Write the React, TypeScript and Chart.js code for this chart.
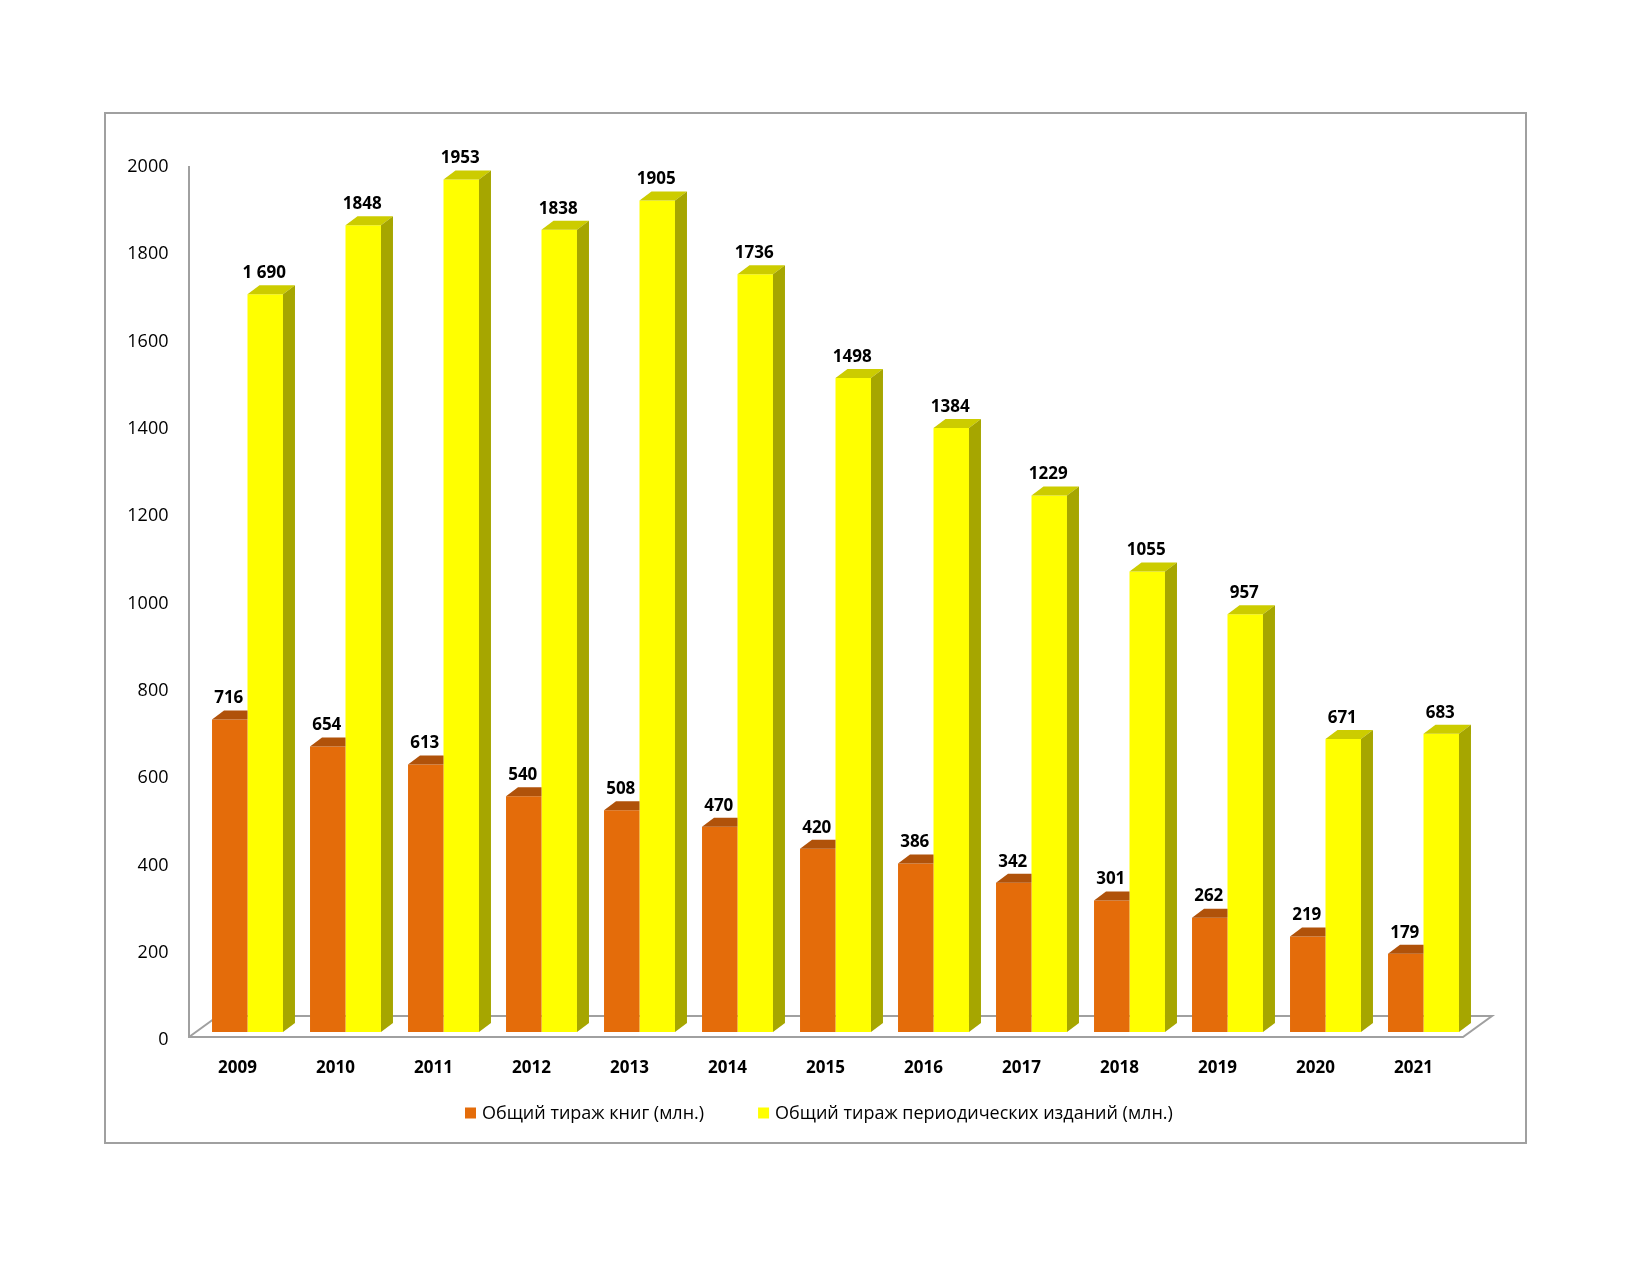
import React, { useEffect, useRef } from "react";
import { Chart, registerables } from "chart.js";

Chart.register(...registerables);

// ---- data ----
const years = ["2009", "2010", "2011", "2012", "2013", "2014", "2015", "2016", "2017", "2018", "2019", "2020", "2021"];
const booksCirculation = [716, 654, 613, 540, 508, 470, 420, 386, 342, 301, 262, 219, 179];
const periodicalsCirculation = [1690, 1848, 1953, 1838, 1905, 1736, 1498, 1384, 1229, 1055, 957, 671, 683];
const seriesNames = ["Общий тираж книг (млн.)", "Общий тираж периодических изданий (млн.)"];
const yAxisMin = 0;
const yAxisMax = 2000;
const yAxisStep = 200;
// which data labels use digit grouping ("1 690")
const groupedLabels = [[], [0]];

// ---- styles ----
const FRONT = ["#E46C0A", "#FFFF00"];
const TOP = ["#B0520A", "#CCCC00"];
const SIDE = ["#9A4808", "#A6A600"];
const DX = 12;
const DY = 9;
const LINE = "#A0A0A0";
const FONT = "'Open Sans', 'DejaVu Sans', sans-serif";

function formatValue(v: number, di: number, i: number): string {
  if (groupedLabels[di].includes(i)) {
    return String(v).replace(/\B(?=(\d{3})+(?!\d))/g, " ");
  }
  return String(v);
}

const threeDPlugin = {
  id: "threeD",
  beforeDraw(chart: any) {
    const ctx = chart.ctx;
    ctx.save();
    ctx.fillStyle = "#ffffff";
    ctx.fillRect(0, 0, chart.width, chart.height);
    ctx.strokeStyle = LINE;
    ctx.lineWidth = 2;
    ctx.strokeRect(105, 113, 1421, 1030);
    ctx.restore();
  },
  beforeDatasetsDraw(chart: any) {
    const { left, right, bottom, top } = chart.chartArea;
    const ctx = chart.ctx;
    const fx0 = left - 9.5;
    const fx1 = right - 9.5;
    const fy = bottom + 5;
    const bx = 29;
    const by = 21;
    ctx.save();
    ctx.strokeStyle = LINE;
    ctx.lineWidth = 2;
    ctx.lineJoin = "miter";
    ctx.beginPath();
    ctx.moveTo(fx0, top + 7);
    ctx.lineTo(fx0, fy);
    ctx.lineTo(fx1, fy);
    ctx.lineTo(fx1 + bx, fy - by);
    ctx.lineTo(fx0 + bx, fy - by);
    ctx.lineTo(fx0, fy);
    ctx.stroke();
    ctx.restore();
  },
  afterDatasetDraw(chart: any, args: any) {
    const di = args.index;
    const meta = args.meta;
    const ctx = chart.ctx;
    meta.data.forEach((bar: any) => {
      const { x, y, base, width } = bar.getProps(["x", "y", "base", "width"], true);
      const l = x - width / 2;
      const r = x + width / 2;
      ctx.save();
      if (di === 0) {
        ctx.beginPath();
        ctx.rect(0, 0, r, chart.height);
        ctx.clip();
      }
      ctx.fillStyle = TOP[di];
      ctx.beginPath();
      ctx.moveTo(l, y);
      ctx.lineTo(r, y);
      ctx.lineTo(r + DX, y - DY);
      ctx.lineTo(l + DX, y - DY);
      ctx.closePath();
      ctx.fill();
      if (di === 1) {
        ctx.fillStyle = SIDE[di];
        ctx.beginPath();
        ctx.moveTo(r, y);
        ctx.lineTo(r + DX, y - DY);
        ctx.lineTo(r + DX, base - DY);
        ctx.lineTo(r, base);
        ctx.closePath();
        ctx.fill();
      }
      ctx.restore();
    });
  },
  afterDatasetsDraw(chart: any) {
    const ctx = chart.ctx;
    ctx.save();
    ctx.fillStyle = "#000";
    ctx.font = `bold 17px ${FONT}`;
    ctx.textAlign = "center";
    ctx.textBaseline = "middle";
    chart.data.datasets.forEach((ds: any, di: number) => {
      const meta = chart.getDatasetMeta(di);
      meta.data.forEach((bar: any, i: number) => {
        const { x, y } = bar.getProps(["x", "y"], true);
        ctx.fillText(formatValue(ds.data[i], di, i), x - 1, y - 21);
      });
    });
    ctx.restore();
  },
  afterDraw(chart: any) {
    // legend
    const ctx = chart.ctx;
    ctx.save();
    ctx.font = `18px ${FONT}`;
    ctx.textBaseline = "middle";
    const cy = 1113;
    let x = 465;
    chart.data.datasets.forEach((ds: any, di: number) => {
      ctx.fillStyle = FRONT[di];
      ctx.fillRect(x, cy - 5.5, 11, 11);
      const tx = x + 17;
      ctx.fillStyle = "#000";
      ctx.fillText(ds.label, tx, cy + 1);
      const w = ctx.measureText(ds.label).width;
      x = tx + w + 54;
    });
    ctx.restore();
  },
};

export default function App() {
  const ref = useRef<HTMLCanvasElement | null>(null);
  useEffect(() => {
    if (!ref.current) return;
    const chart = new Chart(ref.current, {
      type: "bar",
      data: {
        labels: years,
        datasets: [
          {
            label: seriesNames[0],
            data: booksCirculation,
            backgroundColor: FRONT[0],
            borderWidth: 0,
            categoryPercentage: 0.724,
            barPercentage: 1,
          },
          {
            label: seriesNames[1],
            data: periodicalsCirculation,
            backgroundColor: FRONT[1],
            borderWidth: 0,
            categoryPercentage: 0.724,
            barPercentage: 1,
          },
        ],
      },
      options: {
        responsive: false,
        animation: false,
        devicePixelRatio: 1,
        layout: { padding: { left: 108.5, right: 177.5, top: 159, bottom: 193 } },
        plugins: {
          legend: { display: false },
          tooltip: { enabled: false },
        },
        scales: {
          x: {
            grid: { display: false, drawTicks: false },
            border: { display: false },
            ticks: {
              color: "#000",
              font: { family: FONT, size: 17, weight: "bold" },
              padding: 26,
              labelOffset: -10,
              maxRotation: 0,
              autoSkip: false,
            },
            afterFit: (s: any) => {
              s.height = 50;
            },
          },
          y: {
            min: yAxisMin,
            max: yAxisMax,
            grid: { display: false, drawTicks: false },
            border: { display: false },
            ticks: {
              stepSize: yAxisStep,
              color: "#000",
              font: { family: FONT, size: 18 },
              padding: 30,
              labelOffset: 8,
              callback: (v: any) => String(v),
            },
            afterFit: (s: any) => {
              s.width = 90;
            },
          },
        },
      },
      plugins: [threeDPlugin],
    });
    return () => chart.destroy();
  }, []);
  return (
    <div style={{ position: "absolute", left: 0, top: 0, width: 1650, height: 1275 }}>
      <canvas ref={ref} width={1650} height={1275} style={{ display: "block" }} />
    </div>
  );
}
